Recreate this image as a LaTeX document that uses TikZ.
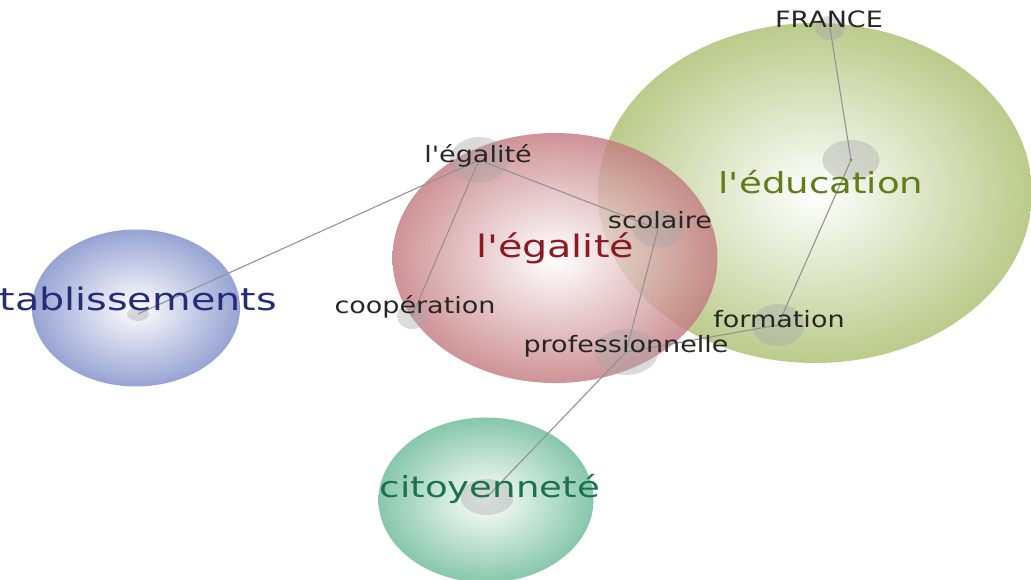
\documentclass[tikz,border=0pt]{standalone}
\usepackage{fontspec}
\setmainfont{DejaVu Sans}
\newfontfamily\wordfont[FakeStretch=1.2]{DejaVu Sans}
\newfontfamily\themefont[FakeStretch=1.28]{DejaVu Sans}
\usetikzlibrary{shapes.geometric}

\definecolor{etabcol}{RGB}{125,140,200}
\definecolor{egalcol}{RGB}{195,120,125}
\definecolor{educcol}{RGB}{170,190,110}
\definecolor{citoycol}{RGB}{105,185,150}
\definecolor{etabtxt}{RGB}{35,45,120}
\definecolor{egaltxt}{RGB}{140,25,35}
\definecolor{eductxt}{RGB}{95,125,25}
\definecolor{citoytxt}{RGB}{25,115,75}

\begin{document}
\begin{tikzpicture}[x=1pt,y=-1pt]

    \tikzstyle{bubble}=[ellipse,inner sep=0pt,shade,inner color=white,fill opacity=0.8]
    \tikzstyle{hub}=[ellipse,inner sep=0pt,fill=gray!70,fill opacity=0.4]
    \tikzstyle{word}=[font=\wordfont\fontsize{22.5}{22.5}\selectfont,text=black!85,inner sep=0pt,anchor=base]
    \tikzstyle{theme}=[font=\themefont\fontsize{31}{31}\selectfont,inner sep=0pt,anchor=base]

    \useasboundingbox (0,0) rectangle (1031,579);
    \clip (0,0) rectangle (1031,579);

    % clusters
    \node[bubble,outer color=educcol,minimum width=434,minimum height=340]  (educB) at (815,193) {};
    \node[bubble,outer color=egalcol,minimum width=325,minimum height=250]  (egalB) at (555,258) {};
    \node[bubble,outer color=etabcol,minimum width=208,minimum height=157]  (etabB) at (136,308) {};
    \node[bubble,outer color=citoycol,minimum width=215,minimum height=165] (citoyB) at (486,500) {};

    % term points
    \node[hub,minimum width=30,minimum height=24] (franceN) at (830,28) {};
    \node[hub,minimum width=57,minimum height=40] (educN) at (851,160) {};
    \node[hub,minimum width=53,minimum height=42] (formN) at (778,325) {};
    \node[hub,minimum width=58,minimum height=46] (egalN) at (479,160) {};
    \node[hub,minimum width=50,minimum height=37] (scolN) at (658,229) {};
    \node[hub,minimum width=30,minimum height=26] (coopN) at (412,316) {};
    \node[hub,minimum width=64,minimum height=46] (profN) at (626,352) {};
    \node[hub,minimum width=53,minimum height=36] (citoyN) at (487,497) {};
    \node[hub,minimum width=22,minimum height=14] (etabN) at (138,314) {};
    \fill[black!70] (educN.center) circle (1.3);

    \tikzstyle{link} = [draw=gray!85, line width=1.1pt]

          \draw [link] (franceN.center) -- (educN.center);
          \draw [link] (educN.center) -- (formN.center);
          \draw [link] (formN.center) -- (profN.center);
          \draw [link] (egalN.center) -- (scolN.center);
          \draw [link] (egalN.center) -- (coopN.center);
          \draw [link] (egalN.center) -- (etabN.center);
          \draw [link] (scolN.center) -- (profN.center);
          \draw [link] (profN.center) -- (citoyN.center);

    % labels
    \node[word]  (franceL) at (829,27) {FRANCE};
    \node[word]  (egalL) at (478,162) {l'égalité};
    \node[word]  (scolL) at (660,228) {scolaire};
    \node[word]  (coopL) at (415,313) {coopération};
    \node[word]  (formL) at (779,327) {formation};
    \node[word]  (profL) at (626,352) {professionnelle};

    \node[theme,text=egaltxt]  (egalT) at (555,257) {l'égalité};
    \node[theme,text=eductxt,font=\themefont\fontsize{29}{29}\selectfont]  (educT) at (821,193) {l'éducation};
    \node[theme,text=etabtxt,anchor=base east]  (etabT) at (277,310) {établissements};
    \node[theme,text=citoytxt,font=\themefont\fontsize{29}{29}\selectfont]  (citoyT) at (490,497) {citoyenneté};

\end{tikzpicture}
\end{document}
